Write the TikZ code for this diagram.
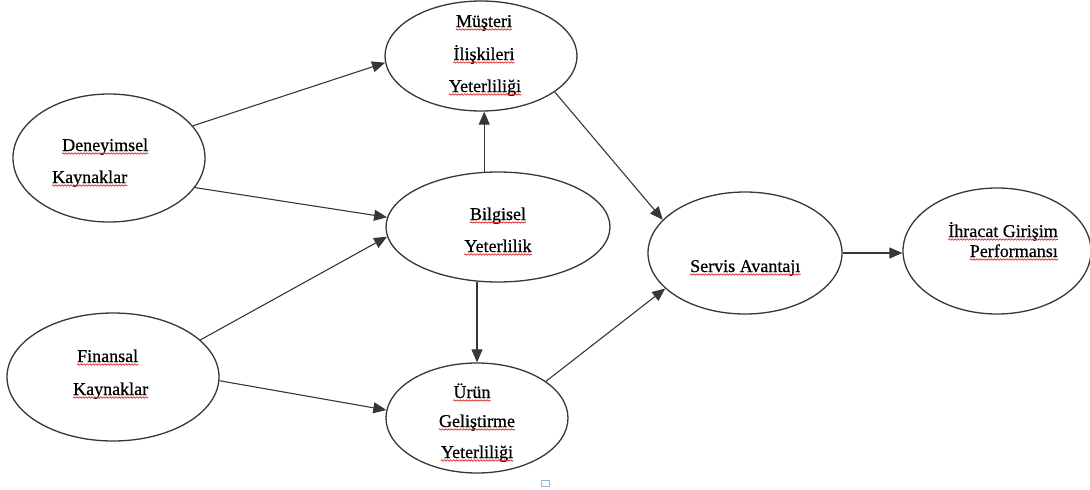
\documentclass[tikz,border=0pt]{standalone}
\usepackage{fontspec}
\setmainfont{Liberation Serif}
\newfontfamily\tnr[FakeBold=0.6]{Liberation Serif}
\usetikzlibrary{arrows.meta,shapes.geometric,decorations.pathmorphing}
\definecolor{edge}{RGB}{55,55,55}
\definecolor{wav}{RGB}{225,40,40}
\definecolor{boxblue}{RGB}{150,180,215}
\tikzset{
  oval/.style={ellipse,draw=edge,line width=1.3pt,fill=white,inner sep=0pt},
  lbl/.style={inner sep=0pt,font=\tnr\fontsize{18}{20}\selectfont,text=black},
  conn/.style={draw=edge,line width=1.1pt,-{Triangle[length=13pt,width=11pt]}},
  wavy/.style={draw=wav,line width=0.7pt,decorate,decoration={snake,segment length=3pt,amplitude=0.7pt}}
}
\newcommand{\wul}[1]{\draw[wavy] ([yshift=-2.5pt]#1.base west) -- ([yshift=-2.5pt]#1.base east);}
\begin{document}
\begin{tikzpicture}[x=1pt,y=-1pt]
\useasboundingbox (0,0) rectangle (1090,490);
% ellipses
\node[oval,minimum width=192pt,minimum height=128pt] (dk) at (109,158) {};
\node[oval,minimum width=212pt,minimum height=128pt] (fk) at (113,377) {};
\node[oval,minimum width=192pt,minimum height=110pt] (mu) at (481,56) {};
\node[oval,minimum width=224pt,minimum height=110pt] (bi) at (498,227) {};
\node[oval,minimum width=182pt,minimum height=110pt] (ur) at (477,418) {};
\node[oval,minimum width=194pt,minimum height=122pt] (sv) at (745,253) {};
\node[oval,minimum width=188pt,minimum height=126pt] (ih) at (997,251) {};
% labels
\node[lbl,anchor=base west] (t1) at (62,151) {Deneyimsel};
\node[lbl,anchor=base west] (t2) at (52,183) {Kaynaklar};
\node[lbl,anchor=base west] (t3) at (77,362) {Finansal};
\node[lbl,anchor=base west] (t4) at (73,395) {Kaynaklar};
\node[lbl,anchor=base] (t5) at (484,27) {Müşteri};
\node[lbl,anchor=base] (t6) at (484,60) {İlişkileri};
\node[lbl,anchor=base] (t7) at (485,92) {Yeterliliği};
\node[lbl,anchor=base] (t8) at (498,220) {Bilgisel};
\node[lbl,anchor=base] (t9) at (498,252) {Yeterlilik};
\node[lbl,anchor=base] (t10) at (472,398) {Ürün};
\node[lbl,anchor=base] (t11) at (477,427) {Geliştirme};
\node[lbl,anchor=base] (t12) at (477,458) {Yeterliliği};
\node[lbl,anchor=base west] (t13) at (690,272) {Servis Avantajı};
\node[lbl,anchor=base east] (t14) at (1058,237) {İhracat Girişim};
\node[lbl,anchor=base east] (t15) at (1058,257) {Performansı};
\foreach \t in {t1,t2,t3,t4,t5,t6,t7,t8,t9,t10,t11,t12,t13,t14,t15}{\wul{\t}}
% connectors
\draw[conn] (dk.21) -- (mu.184);
\draw[conn] (dk.341) -- (bi.175);
\draw[conn] (fk.23) -- (bi.185);
\draw[conn] (fk.358) -- (ur.175);
\draw[conn] (bi.104) -- (bi.104 |- mu.south);
\draw[conn] (bi.249) -- (bi.249 |- ur.north);
\draw[conn] (mu.334) -- (sv.158);
\draw[conn] (ur.28) -- (sv.204);
\draw[conn] (sv.east) -- (sv.east -| ih.west);
% small mark
\draw[boxblue,line width=0.8pt] (541,480) rectangle (549,486);
\end{tikzpicture}
\end{document}
